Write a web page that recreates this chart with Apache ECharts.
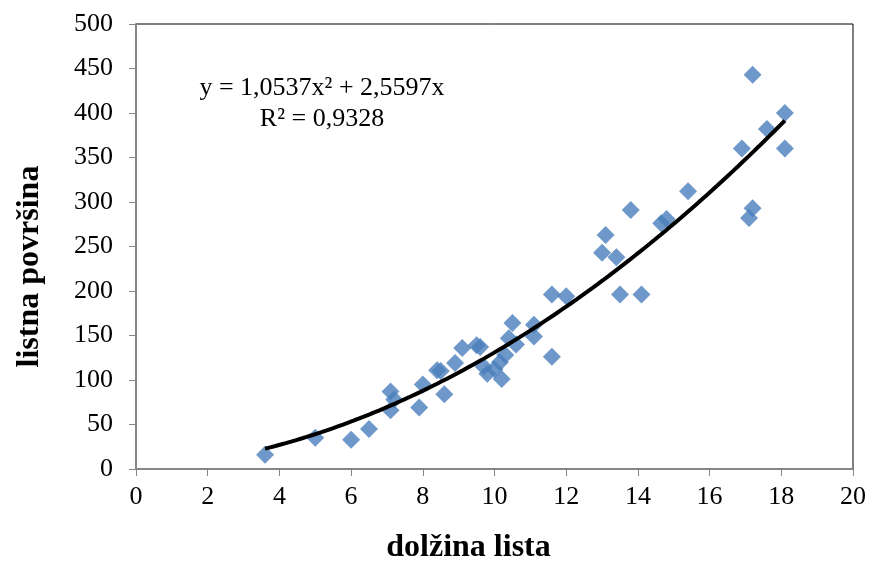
<!DOCTYPE html>
<html>
<head>
<meta charset="utf-8">
<script src="https://cdn.jsdelivr.net/npm/echarts@6/dist/echarts.min.js"></script>
<style>
html,body{margin:0;padding:0;background:#fff;}
#chart{width:869px;height:561px;}
</style>
</head>
<body>
<div id="chart"></div>
<script>
// leaf length (dolžina lista)
const leafLength = [3.6,5.0,6.0,6.5,7.1,7.1,7.2,7.9,8.0,8.4,8.5,8.6,8.9,9.1,9.5,9.6,9.7,9.8,10.0,10.15,10.2,10.3,10.4,10.5,10.6,11.1,11.1,11.6,11.6,12.0,13.0,13.1,13.4,13.5,13.8,14.1,14.65,14.8,15.4,16.9,17.1,17.2,17.2,17.6,18.1,18.1];
// leaf area (listna površina)
const leafArea = [16,35,33,45,87,66,78,69,95,111,110,84,119,136,139,137,115,107,112,120,101,128,147,164,140,162,149,126,196,194,243,263,238,196,291,196,276,281,312,360,282,293,443,382,400,360];
// trendline coefficients from the chart: y = a*x^2 + b*x
const trendA = 1.0537;
const trendB = 2.5597;
const trendRange = [3.6, 18.1];
const xTicks = [0,2,4,6,8,10,12,14,16,18,20];
const yTicks = [0,50,100,150,200,250,300,350,400,450,500];
const equationText = 'y = 1,0537x² + 2,5597x';
const r2Text = 'R² = 0,9328';

const points = leafLength.map((x, i) => [x, leafArea[i]]);
const trend = [];
for (let k = 0; k <= 100; k++) {
  const x = trendRange[0] + (trendRange[1] - trendRange[0]) * k / 100;
  trend.push([x, trendA * x * x + trendB * x]);
}

const font = '"Liberation Serif","Times New Roman",serif';
const chart = echarts.init(document.getElementById('chart'));
chart.setOption({
  animation: false,
  backgroundColor: '#fff',
  grid: {left: 136, right: 16, top: 24, bottom: 92, show: true, borderColor: '#000', borderWidth: 1, backgroundColor: 'transparent', containLabel: false, outerBoundsMode: 'none'},
  xAxis: {
    type: 'value', min: xTicks[0], max: xTicks[xTicks.length-1], interval: 2,
    name: 'dolžina lista', nameLocation: 'middle', nameGap: 63,
    nameTextStyle: {fontFamily: font, fontWeight: 'bold', fontSize: 32, color: '#000', padding: [0, 52, 0, 0]},
    axisLine: {show: true, lineStyle: {color: '#868686', width: 2}},
    axisTick: {show: true, inside: false, length: 7, lineStyle: {color: '#868686', width: 1}},
    axisLabel: {fontFamily: font, fontSize: 26, color: '#000', margin: 15},
    splitLine: {show: false}
  },
  yAxis: {
    type: 'value', min: yTicks[0], max: yTicks[yTicks.length-1], interval: 50,
    name: 'listna površina', nameLocation: 'middle', nameGap: 90, nameRotate: 90,
    nameTextStyle: {fontFamily: font, fontWeight: 'bold', fontSize: 32, color: '#000', padding: [0, 40, 0, 0]},
    axisLine: {show: true, lineStyle: {color: '#868686', width: 2}},
    axisTick: {show: true, inside: false, length: 7, lineStyle: {color: '#868686', width: 1}},
    axisLabel: {fontFamily: font, fontSize: 26, color: '#000', margin: 23},
    splitLine: {show: false}
  },
  series: [
    {
      type: 'scatter', data: points, symbol: 'diamond', symbolSize: 18,
      itemStyle: {color: '#4a7ebb'}, z: 2
    },
    {
      type: 'line', data: trend, showSymbol: false, smooth: false,
      lineStyle: {color: '#000', width: 4}, z: 3
    }
  ],
  graphic: [
    {type: 'text', x: 322, y: 88, style: {text: equationText, font: '26px ' + font, fill: '#000', textAlign: 'center', textVerticalAlign: 'middle'}},
    {type: 'text', x: 322, y: 119, style: {text: r2Text, font: '26px ' + font, fill: '#000', textAlign: 'center', textVerticalAlign: 'middle'}}
  ]
});
</script>
</body>
</html>
